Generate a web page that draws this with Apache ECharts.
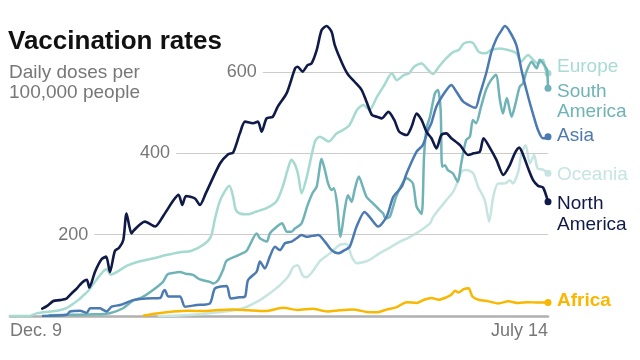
<!DOCTYPE html>
<html>
<head>
<meta charset="utf-8">
<script src="https://cdn.jsdelivr.net/npm/echarts@6/dist/echarts.min.js"></script>
<style>
html,body{margin:0;padding:0;background:#fff;}
#c{width:640px;height:360px;}
</style>
</head>
<body>
<div id="c"></div>
<script>
// x = days since Dec. 9 (0 .. 217 = July 14)
const tickLabels = ['Dec. 9', 'July 14'];
const gridValues = [200, 400, 600];
const gridStartDays = [34, 67, 102];
const regions = ['Oceania', 'Europe', 'South America', 'Asia', 'North America', 'Africa'];

const oceania = [[60,0],[70,2],[80.6,7],[88,12],[94,19],[100.8,39],[104.8,56],[108.9,76],[112.2,97],[114.2,120],[116,125],[118,100],[119.5,95],[122,109],[125,135],[129,154],[133,175],[135.8,177],[137.8,146],[139.8,130],[142.3,132],[145,138],[149,154],[153.2,168],[157.3,183],[160,190],[162.6,199],[165.3,209],[169.4,228],[170.7,244],[176,285],[178.8,306],[180.8,334],[182.1,355],[184.2,359],[186.8,351],[188.8,318],[191.5,285],[193.3,232],[194.9,293],[196.9,326],[199.6,326],[201.6,334],[202.8,326],[205,355],[206.3,400],[208,420],[209.7,375],[211.4,396],[212.8,363],[215,360],[217,351]];

const europe = [[0,0],[8,0],[11,7],[16,11],[20,14],[23,20],[25,28],[27.5,39],[29.5,50],[31.6,62],[33.5,78],[35,90],[37.6,110],[39,115],[40.5,102],[43,108],[47,123],[52,134],[58,142],[63,150],[68.5,157],[73,160],[78,175],[81,195],[82.7,240],[84.5,280],[86.5,305],[88.5,320],[90,293],[91,262],[92.7,252],[96,250],[99.5,257],[103.5,265],[107.5,282],[110,318],[112,360],[113.5,384],[115,372],[116.3,345],[117.6,302],[119.6,339],[123,429],[125,441],[128.6,429],[131.7,449],[134.5,458],[137,470],[140,507],[142.5,519],[145,507],[148,539],[151,568],[154,597],[156,580],[159,593],[161,597],[163,613],[166,621],[168.7,605],[170.6,595],[173,613],[176,634],[179,650],[181,654],[183,670],[185.5,674],[187,670],[189,650],[192,646],[194,654],[197.6,658],[201,654],[204.3,646],[206,625],[209,642],[211,630],[213,621],[215,630],[216,605],[217,597]];

const southAmerica = [[16,2],[25,3],[34,4],[40.3,7],[45.6,19],[49.6,38],[53,45],[57.7,64],[61.7,84],[63.5,102],[66,106],[68.5,108],[71,104],[73.8,101],[76.6,90],[80.6,84],[82,80],[83.9,88],[85.9,113],[87.4,136],[91.5,148],[95.4,160],[99.5,203],[100.8,191],[103.6,183],[104.8,203],[107.7,220],[109.7,228],[111.7,207],[113.5,207],[114.9,215],[117.6,228],[120,272],[122,302],[123.7,318],[125.7,386],[127,359],[128.3,326],[129.7,310],[130.6,314],[131.9,277],[133.3,195],[135,261],[136.3,297],[137.8,281],[139,310],[140.7,343],[142.3,318],[143.8,293],[146.4,277],[149,261],[150.4,253],[151.6,240],[153.2,244],[156,297],[160,339],[162.5,326],[164,269],[166,251],[167,392],[168,461],[169.4,490],[171.4,548],[172.6,556],[173.7,506],[174.3,367],[175.4,371],[176.6,359],[178.6,351],[180.6,330],[182,375],[184,433],[185.5,441],[186.7,482],[188,474],[190,515],[192,556],[194,580],[196,593],[197.6,531],[198.8,498],[200.4,536],[202.3,490],[203.6,515],[205.6,564],[206.9,572],[208.3,601],[210.4,625],[212.4,609],[213.7,630],[215.7,615],[216.6,605],[217,560]];

const asia = [[13.3,0],[22.9,3],[24.2,11],[28.2,13],[31,8],[32.3,19],[36.3,19],[37.6,15],[39,11],[41,23],[44.4,27],[49.7,39],[55,43],[60.5,44],[61.8,60],[62.5,64],[63.8,48],[68.5,48],[70.6,23],[75.3,27],[80.6,31],[82.7,68],[87.4,74],[89,43],[92.7,46],[94.8,48],[96,88],[99.5,109],[100.8,134],[102.8,117],[104.8,146],[106.9,170],[108.9,162],[110.9,179],[113.6,183],[115.6,191],[117.6,199],[119.6,195],[121.8,197],[124.3,199],[127,183],[129.7,162],[132.4,154],[135,162],[137,170],[139.8,220],[143,256],[145,244],[148.5,220],[151.9,244],[154.6,293],[158,318],[160,351],[164,404],[166.5,420],[168.5,455],[170,475],[172,515],[175.4,550],[178,568],[180,552],[182.8,527],[185.5,517],[187.7,512],[189.5,545],[192.2,600],[194.2,650],[196.2,682],[198,700],[199.6,713],[201.6,699],[204.3,665],[206.3,605],[209,539],[211,496],[213,457],[215,437],[216,437],[217,441]];

const northAmerica = [[13,18],[15,25],[17.5,37],[20,39],[22.8,43],[24.9,56],[27,68],[29,82],[31,89],[32,70],[34.3,109],[37,140],[38.8,146],[40.3,108],[42.3,160],[44,168],[45.7,187],[47,252],[49,203],[50,211],[54.4,232],[58.5,220],[62,248],[66,285],[68,298],[69.5,273],[71,295],[74.6,289],[76.6,273],[79,302],[84.7,375],[88,398],[90,402],[92.7,449],[94.8,478],[98,474],[100,478],[101.5,453],[103.5,486],[106,490],[108,515],[111.6,548],[115,609],[116,613],[118,601],[120,617],[121.6,621],[123.7,654],[125.7,703],[127.7,713],[129.7,699],[131,666],[134,621],[136.4,593],[139,576],[141.8,556],[143.8,527],[146,494],[148,490],[150,486],[152.6,502],[155,482],[157,453],[160,445],[162,466],[164,498],[166,482],[168,453],[170,437],[172,412],[174,445],[176,449],[178,437],[181.5,420],[184.8,396],[187,400],[189.5,404],[191,437],[193.5,414],[196.2,384],[199,347],[201.6,371],[203.6,400],[205.4,414],[207,396],[209,363],[211,334],[213,320],[215,316],[217,281]];

const africa = [[54,1],[60,7],[66,11],[72,13],[78,12],[84,15],[90,16],[96,14],[103,12],[110,20],[116,15],[122,18],[128,11],[133,14],[138,16],[144,10],[148,9],[152,16],[156,22],[160,34],[164,32],[167,40],[170,44],[173,40],[176,46],[178,52],[179.5,62],[181,58],[183,66],[185,68],[186.5,48],[189,40],[193,36],[197,31],[201,36],[205,32],[209,34],[213,33],[217,33]];

const seriesData = [oceania, europe, southAmerica, asia, northAmerica, africa];
const colors = ['#c6e5e1', '#a5dad1', '#6fb3b7', '#4b79b1', '#101a48', '#f9b700'];
const widths = [2.5, 2.5, 2.5, 2.5, 2.6, 2.5];

const chart = echarts.init(document.getElementById('c'), null, {renderer: 'canvas'});

const series = seriesData.map((d, si) => ({
  type: 'line',
  name: regions[si],
  data: d.map((p, i) => i === d.length - 1 ? {value: p, symbol: 'circle', symbolSize: 7} : p),
  symbol: 'none',
  showSymbol: true,
  showAllSymbol: true,
  smooth: 0.25,
  lineStyle: {color: colors[si], width: widths[si], cap: 'round', join: 'round'},
  itemStyle: {color: colors[si]},
  animation: false,
  silent: true,
  z: 3 + si
}));

series.unshift({
  type: 'line',
  name: 'grid',
  data: [[0, null]],
  symbol: 'none',
  silent: true,
  animation: false,
  z: 1,
  markLine: {
    silent: true,
    symbol: ['none', 'none'],
    animation: false,
    lineStyle: {color: '#cccccc', width: 1, type: 'solid'},
    label: {show: true, position: 'start', distance: 6, color: '#777', fontSize: 18, fontFamily: 'Liberation Sans, Arial, sans-serif', formatter: p => String(p.data.gv)},
    data: gridValues.map((v, i) => [
      {coord: [gridStartDays[i], v], gv: v},
      {coord: [217, v]}
    ])
  }
});

const labelFont = '19px "Liberation Sans", Arial, sans-serif';
const rightLabels = [
  {t: 'Europe', y: 67, c: '#a8dcd3'},
  {t: 'South', y: 92, c: '#6fb3b7'},
  {t: 'America', y: 112, c: '#6fb3b7'},
  {t: 'Asia', y: 136, c: '#4b79b1'},
  {t: 'Oceania', y: 175, c: '#c6e5e1'},
  {t: 'North', y: 204, c: '#101a48'},
  {t: 'America', y: 225, c: '#101a48'},
  {t: 'Africa', y: 301, c: '#f9b700', bold: true}
];

chart.setOption({
  backgroundColor: '#ffffff',
  animation: false,
  grid: {left: 10, right: 92, top: 11, bottom: 44, containLabel: false},
  xAxis: {
    type: 'value', min: 0, max: 217, interval: 217,
    splitLine: {show: false},
    axisTick: {show: false},
    axisLine: {show: true, onZero: false, lineStyle: {color: '#b0b0b0', width: 2.5}},
    axisLabel: {
      show: true, margin: 6, fontSize: 18, color: '#777',
      fontFamily: 'Liberation Sans, Arial, sans-serif',
      alignMinLabel: 'left', alignMaxLabel: 'right',
      formatter: v => v === 0 ? tickLabels[0] : (v === 217 ? tickLabels[1] : '')
    }
  },
  yAxis: {
    type: 'value', min: 0, max: 750, show: false, splitLine: {show: false}
  },
  series: series,
  graphic: [
    {type: 'text', left: 8, top: 29, style: {text: 'Vaccination rates', font: 'bold 26px "Liberation Sans", Arial, sans-serif', fill: '#111'}},
    {type: 'text', left: 9, top: 63, style: {text: 'Daily doses per\n100,000 people', font: '19px "Liberation Sans", Arial, sans-serif', fill: '#777', lineHeight: 20}}
  ].concat(rightLabels.map(l => ({
    type: 'text', x: 557, y: l.y,
    style: {text: l.t, font: (l.bold ? 'bold ' : '') + labelFont, fill: l.c, textVerticalAlign: 'middle', textAlign: 'left'}
  })))
});
</script>
</body>
</html>
